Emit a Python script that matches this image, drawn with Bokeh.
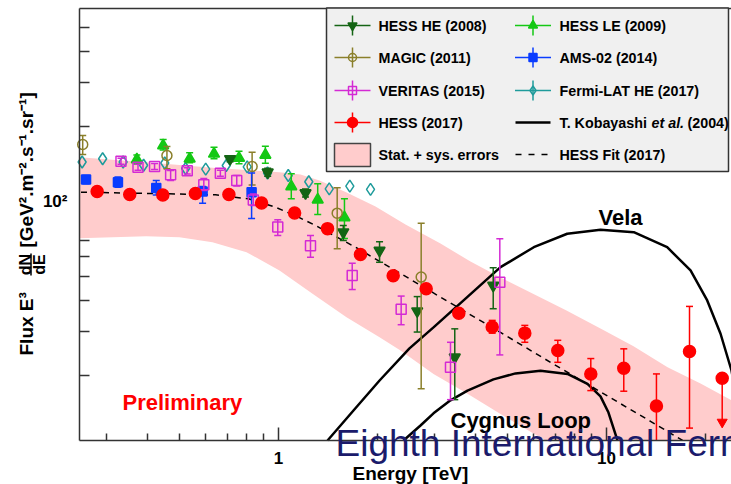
import math
from bokeh.plotting import figure
from bokeh.models import FixedTicker, Label, Arrow
from bokeh.embed import file_html
from bokeh.resources import INLINE

# ---------------------------------------------------------------------------
# Cosmic-ray electron spectrum, E^3 dN/dE [GeV^2 m^-2 s^-1 sr^-1] vs E [TeV]
# ---------------------------------------------------------------------------

# H.E.S.S. 2017 (red filled circles); last point is an upper limit
hess17_e = [0.280, 0.352, 0.444, 0.558, 0.706, 0.888, 1.120, 1.411, 1.778, 2.237,
            2.820, 3.546, 4.483, 5.636, 7.104, 8.957, 11.29, 14.20, 17.91, 22.53]
hess17_f = [109.7, 106.7, 106.2, 107.7, 106.7, 98.6, 89.9, 77.8, 61.2, 50.3,
            44.6, 35.6, 31.3, 29.6, 25.2, 20.3, 21.4, 15.1, 25.0, 19.5]
hess17_lo = [109.7, 106.7, 106.2, 107.7, 106.7, 98.6, 89.9, 77.8, 61.2, 50.3,
             44.6, 35.6, 29.6, 27.2, 22.6, 17.4, 17.3, 10.97, 12.3, 19.5]
hess17_hi = [109.7, 106.7, 106.2, 107.7, 106.7, 98.6, 89.9, 77.8, 61.2, 50.3,
             44.6, 35.6, 33.3, 31.8, 27.7, 23.4, 25.6, 20.3, 37.9, 19.5]
hess17_lo_cap = [True] * 17 + [False, True, True]
hess17_ul_e = [22.53]
hess17_ul_from = [19.5]
hess17_ul_to = [13.0]

# H.E.S.S. HE 2008 (dark green inverted triangles)
hesshe_e = [0.712, 0.927, 1.209, 1.576, 2.033, 2.648, 3.447, 4.515]
hesshe_f = [148.4, 131.1, 108.2, 75.3, 63.6, 36.3, 23.7, 46.0]
hesshe_lo = [144.3, 126.4, 104.2, 69.7, 57.0, 29.9, 16.0, 37.1]
hesshe_hi = [152.6, 136.1, 112.3, 80.1, 68.9, 41.5, 30.8, 54.2]

# H.E.S.S. LE 2009 (green triangles)
hessle_e = [0.370, 0.445, 0.536, 0.636, 0.758, 0.912, 1.094, 1.317, 1.589]
hessle_f = [147.5, 167.9, 148.4, 155.4, 149.5, 153.7, 114.9, 101.6, 86.2]
hessle_lo = [141.5, 161.0, 143.0, 148.4, 141.7, 142.5, 102.5, 88.7, 71.0]
hessle_hi = [153.7, 177.4, 156.9, 165.3, 159.2, 166.8, 129.2, 117.8, 102.5]

# MAGIC 2011 (olive open circles)
magic_e = [0.253, 0.457, 0.831, 1.510, 2.723]
magic_f = [169.4, 153.0, 138.2, 89.8, 49.7]
magic_lo = [154.4, 135.3, 116.5, 64.6, 17.7]
magic_hi = [184.1, 166.3, 157.8, 113.5, 81.8]

# AMS-02 2014 (blue filled squares)
ams_e = [0.259, 0.324, 0.424, 0.587, 0.828]
ams_f = [122.6, 119.5, 113.3, 109.7, 109.0]
ams_lo = [117.8, 114.1, 106.2, 98.4, 85.5]
ams_hi = [127.2, 125.4, 121.4, 114.9, 130.2]

# VERITAS 2015 (magenta open squares)
veritas_e = [0.331, 0.373, 0.419, 0.469, 0.527, 0.592, 0.665, 0.746, 0.838,
             0.995, 1.252, 1.678, 2.366, 3.345, 4.729]
veritas_f = [145.2, 137.4, 138.3, 128.0, 132.8, 116.8, 129.9, 121.4, 101.4,
             78.9, 66.4, 50.4, 36.9, 21.6, 47.4]
veritas_lo = [141.2, 133.6, 134.5, 121.4, 129.1, 110.7, 126.3, 115.4, 96.4,
              73.0, 59.7, 44.3, 32.0, 16.0, 24.2]
veritas_hi = [149.2, 141.2, 142.2, 133.2, 136.6, 123.7, 133.6, 127.2, 107.2,
              84.4, 73.0, 56.5, 41.7, 27.2, 70.8]

# Fermi-LAT HE 2017 (teal open diamonds)
fermi_e = [0.252, 0.291, 0.336, 0.388, 0.450, 0.521, 0.600, 0.693, 0.803, 0.926,
           1.071, 1.237, 1.428, 1.650, 1.908]
fermi_f = [144.1, 148.5, 144.1, 139.8, 142.8, 135.7, 134.8, 139.5, 137.8, 130.2,
           127.2, 120.0, 112.3, 115.2, 111.9]

# H.E.S.S. 2017 fit (dashed), down to the energy axis
fit_e = [0.250, 0.407, 0.643, 0.810, 0.979, 1.151, 1.297, 1.717, 2.355, 3.345,
         4.752, 6.751, 9.588, 13.62, 17.06]
fit_f = [109.0, 107.7, 106.4, 102.5, 94.9, 86.5, 80.1, 65.5, 51.4, 39.1,
         29.8, 22.6, 17.2, 13.1, 10.97]

# Stat. + sys. error band (upper edge, then lower edge running into the axis)
band_up_e = [0.2473, 0.312, 0.395, 0.499, 0.629, 0.799, 1.007, 1.167, 1.334, 1.608,
             1.976, 2.439, 3.118, 3.849, 4.752, 5.990, 7.551, 9.588, 12.09, 15.35,
             19.35, 24.05]
band_up_f = [150.6, 147.2, 143.8, 140.2, 136.6, 133.8, 131.1, 128.4, 121.4, 109.0,
             95.5, 80.8, 67.8, 57.4, 49.5, 42.5, 36.5, 30.9, 26.2, 21.6,
             18.6, 15.9]
band_lo_e = [0.2473, 0.312, 0.395, 0.499, 0.629, 0.799, 1.007, 1.270, 1.612, 2.033,
             2.355, 2.969, 3.769, 4.752, 5.990, 6.516, 24.05]
band_lo_f = [71.2, 71.9, 72.5, 71.9, 68.6, 62.6, 52.8, 42.6, 34.3, 28.5,
             25.2, 20.3, 16.9, 14.0, 11.7, 10.97, 10.97]

# T. Kobayashi et al. (2004) source predictions
vela_e = [1.411, 1.693, 2.033, 2.508, 2.975, 3.761, 4.752, 6.003, 7.590, 9.588,
          12.11, 15.31, 18.04, 20.28, 22.27, 24.05, 25.3]
vela_f = [10.97, 14.47, 19.10, 25.7, 31.28, 41.28, 54.47, 65.53, 74.20, 76.99,
          75.30, 65.53, 52.84, 40.04, 29.43, 20.96, 14.5]
cygnus_e = [2.405, 2.710, 2.969, 3.345, 3.769, 4.523, 5.280, 6.293, 7.605, 8.750,
            9.588, 10.14, 10.80]
cygnus_f = [10.97, 12.6, 14.1, 15.9, 17.4, 19.3, 20.4, 20.9, 20.3, 18.5,
            16.5, 14.2, 10.97]

x_ticks = [1, 10]
x_minor = [0.3, 0.4, 0.5, 0.6, 0.7, 0.8, 0.9, 2, 3, 4, 5, 6, 7, 8, 9, 20]
y_ticks = [100]
y_minor = [20, 30, 40, 50, 60, 70, 200, 300, 400, 500]

# axes box (data units)
E_MIN, E_MAX = 0.2473, 24.05
F_MIN, F_MAX = 10.97, 595.9

# ---------------------------------------------------------------------------
FONT = "Liberation Sans"
RED = "#ff0000"
HE_COL = "#146414"
LE_COL = "#14c814"
MAGIC_COL = "#8a7f2a"
AMS_COL = "#0a3cff"
VER_COL = "#d42ad4"
FERMI_COL = "#1e9b9b"
BAND_COL = "#ffcccc"
AXIS_COL = "#333333"

W, H = 731, 484
# canvas-wide view; the axes sit at fixed locations inside it
view_x = (0.14207, 24.05)
view_y = (7.301, 641.6)

p = figure(width=W, height=H, x_axis_type="log", y_axis_type="log",
           x_range=view_x, y_range=view_y,
           output_backend="svg", toolbar_location=None,
           min_border_left=0, min_border_right=0,
           min_border_top=0, min_border_bottom=0)
p.outline_line_color = None
p.grid.visible = False
p.background_fill_color = "white"
p.border_fill_color = "white"

# canvas pixel -> data helpers for annotation placement
_lx0, _lx1 = math.log10(view_x[0]), math.log10(view_x[1])
_ly0, _ly1 = math.log10(view_y[0]), math.log10(view_y[1])


def sx(px):
    return 10 ** (_lx0 + px / W * (_lx1 - _lx0))


def sy(py):
    return 10 ** (_ly1 - py / H * (_ly1 - _ly0))


# axes
for ax in (p.xaxis[0], p.yaxis[0]):
    ax.axis_line_color = AXIS_COL
    ax.axis_line_width = 1.5
    ax.major_tick_line_color = AXIS_COL
    ax.minor_tick_line_color = AXIS_COL
    ax.major_tick_line_width = 1.5
    ax.minor_tick_line_width = 1.5
    ax.major_tick_out = 0
    ax.minor_tick_out = 0
    ax.major_label_text_font = FONT
    ax.major_label_text_font_style = "bold"
    ax.major_label_text_font_size = "17px"
    ax.major_label_text_color = "black"

p.xaxis.fixed_location = F_MIN
p.xaxis.bounds = (E_MIN, E_MAX)
p.xaxis.ticker = FixedTicker(ticks=x_ticks, minor_ticks=x_minor)
p.xaxis.major_label_overrides = {1: "1", 10: "10"}
p.xaxis.major_tick_in = 13
p.xaxis.minor_tick_in = 7
p.xaxis.major_label_standoff = 12

p.yaxis.fixed_location = E_MIN
p.yaxis.bounds = (F_MIN, F_MAX)
p.yaxis.ticker = FixedTicker(ticks=y_ticks, minor_ticks=y_minor)
p.yaxis.major_label_overrides = {100: "10²"}
p.yaxis.major_tick_line_color = None
p.yaxis.minor_tick_in = 10
p.yaxis.major_label_standoff = 12

# top edge of the axes box
p.segment([E_MIN], [F_MAX], [E_MAX], [F_MAX], line_color=AXIS_COL, line_width=1.5)

# error band, fit and model curves
p.patch(band_up_e + band_lo_e[::-1], band_up_f + band_lo_f[::-1],
        fill_color=BAND_COL, line_color=None)
p.line(fit_e, fit_f, line_color="black", line_width=1.5, line_dash="6 5")
p.line(vela_e, vela_f, line_color="black", line_width=2.5)
p.line(cygnus_e, cygnus_f, line_color="black", line_width=2.5)


def draw_series(e, f, lo, hi, color, marker, filled, size, lo_cap=None):
    idx = [i for i in range(len(e)) if hi[i] > lo[i]]
    ee = [e[i] for i in idx]
    ll = [lo[i] for i in idx]
    hh = [hi[i] for i in idx]
    p.segment(ee, ll, ee, hh, line_color=color, line_width=1.5)
    cap_idx = [i for i in idx if lo_cap is None or lo_cap[i]]
    p.scatter([e[i] for i in cap_idx], [lo[i] for i in cap_idx], marker="dash",
              size=7, line_color=color, line_width=1.5)
    p.scatter(ee, hh, marker="dash", size=7, line_color=color, line_width=1.5)
    p.scatter(e, f, marker=marker, size=size, line_color=color, line_width=1.5,
              fill_color=color if filled else None)


p.scatter(fermi_e, fermi_f, marker="diamond", size=12, line_color=FERMI_COL,
          line_width=1.5, fill_color=None)
draw_series(hessle_e, hessle_f, hessle_lo, hessle_hi, LE_COL, "triangle", True, 11)
draw_series(hesshe_e, hesshe_f, hesshe_lo, hesshe_hi, HE_COL, "inverted_triangle", True, 11)
draw_series(magic_e, magic_f, magic_lo, magic_hi, MAGIC_COL, "circle", False, 10)
draw_series(ams_e, ams_f, ams_lo, ams_hi, AMS_COL, "square", True, 9)
draw_series(veritas_e, veritas_f, veritas_lo, veritas_hi, VER_COL, "square", False, 10)
draw_series(hess17_e, hess17_f, hess17_lo, hess17_hi, RED, "circle", True, 12,
            lo_cap=hess17_lo_cap)
p.segment(hess17_ul_e, hess17_ul_from, hess17_ul_e, hess17_ul_to, line_color=RED, line_width=1.5)
p.scatter(hess17_ul_e, hess17_ul_to, marker="inverted_triangle", size=10,
          line_color=RED, fill_color=RED)

# ---- legend ----
p.quad(left=[sx(326)], right=[sx(728)], top=[sy(7.5)], bottom=[sy(171)],
       fill_color="#f0f0f0", line_color=AXIS_COL, line_width=1.5)

rows = [25, 57, 90, 122, 154]
sym_x = [352, 532.5]
txt_x = [378, 559]
entries = [
    (0, 0, "HESS HE (2008)", HE_COL, "inverted_triangle", True, 9),
    (0, 1, "MAGIC (2011)", MAGIC_COL, "circle", False, 8),
    (0, 2, "VERITAS (2015)", VER_COL, "square", False, 8),
    (0, 3, "HESS (2017)", RED, "circle", True, 10),
    (1, 0, "HESS LE (2009)", LE_COL, "triangle", True, 9),
    (1, 1, "AMS-02 (2014)", AMS_COL, "square", True, 8),
    (1, 2, "Fermi-LAT HE (2017)", FERMI_COL, "diamond", False, 9),
]


def legend_text(px, py, text, style="bold"):
    p.add_layout(Label(x=sx(px), y=sy(py), text=text, text_font=FONT,
                       text_font_style=style, text_font_size="14.3px",
                       text_color="black", text_baseline="middle", text_align="left"))


for col, row, text, color, marker, filled, size in entries:
    cx, cy = sym_x[col], rows[row]
    p.segment([sx(cx - 18)], [sy(cy)], [sx(cx + 18)], [sy(cy)], line_color=color, line_width=1.5)
    p.segment([sx(cx)], [sy(cy - 10)], [sx(cx)], [sy(cy + 10)], line_color=color, line_width=1.5)
    p.scatter([sx(cx)], [sy(cy)], marker=marker, size=size, line_color=color,
              line_width=1.5, fill_color=color if filled else None)
    legend_text(txt_x[col], cy, text)

p.quad(left=[sx(334)], right=[sx(370)], top=[sy(143)], bottom=[sy(166)],
       fill_color=BAND_COL, line_color="#444444", line_width=1.5)
legend_text(txt_x[0], rows[4], "Stat. + sys. errors")

p.segment([sx(515)], [sy(rows[3])], [sx(550)], [sy(rows[3])], line_color="black", line_width=2.5)
legend_text(559, rows[3], "T. Kobayashi")
legend_text(651, rows[3], "et al.", "bold italic")
legend_text(687, rows[3], "(2004)")

p.segment([sx(515)], [sy(rows[4])], [sx(550)], [sy(rows[4])], line_color="black",
          line_width=1.5, line_dash="6 7")
legend_text(559, rows[4], "HESS Fit (2017)")


def text_label(px, py, text, size, color="black", style="bold", **kw):
    p.add_layout(Label(x=sx(px), y=sy(py), text=text, text_font=FONT,
                       text_font_style=style, text_font_size=size,
                       text_color=color, **kw))


# ---- in-plot annotations (anchored at the bottom of each text box) ----
text_label(122, 414, "Preliminary", "22px", RED)
text_label(598, 229, "Vela", "22px")
text_label(450, 432, "Cygnus Loop", "22px")

# ---- axis titles ----
text_label(352, 483, "Energy [TeV]", "19px")

half_pi = math.pi / 2
text_label(25.5, 355, "Flux E³", "19px", angle=half_pi, text_align="left",
           text_baseline="alphabetic")
text_label(24.5, 264, "dN", "16px", angle=half_pi, text_align="center",
           text_baseline="alphabetic")
p.add_layout(Arrow(x_start=sx(30.5), y_start=sy(253), x_end=sx(30.5), y_end=sy(275),
                   end=None, line_color="black", line_width=1.5))
text_label(38.5, 264, "dE", "16px", angle=half_pi, text_align="center",
           text_baseline="alphabetic")
text_label(25.5, 247, "[GeV².m⁻².s⁻¹.sr⁻¹]", "19px", angle=half_pi, text_align="left",
           text_baseline="alphabetic")

# ---- conference banner ----
text_label(335, 463, "Eighth International Fermi Symposium", "37px", "#1b1b6b",
           style="normal", level="overlay")

open("out.html", "w").write(file_html(p, INLINE))
